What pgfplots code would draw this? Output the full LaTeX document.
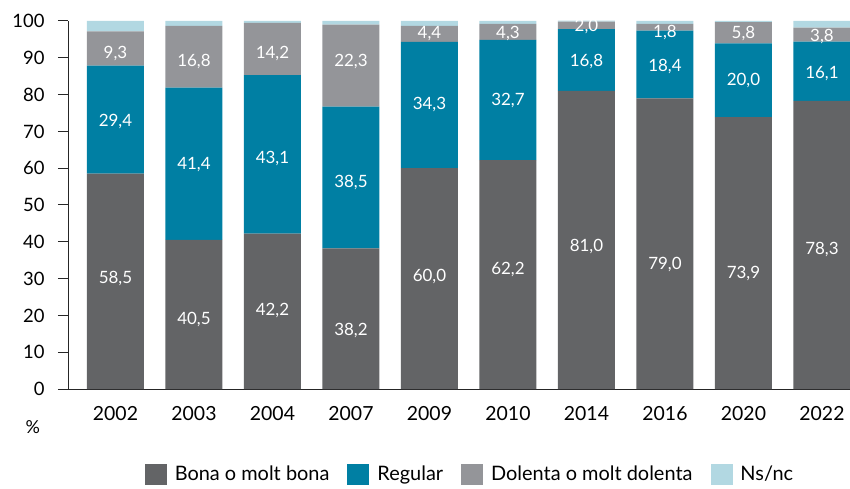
\documentclass[border=0pt]{standalone}
\usepackage{pgfplots}
\pgfplotsset{compat=1.18}
\usepackage{fontspec}
\setmainfont{Lato}
\definecolor{cBona}{HTML}{636466}
\definecolor{cReg}{HTML}{007FA3}
\definecolor{cDol}{HTML}{949599}
\definecolor{cNs}{HTML}{B2D8E2}
\pgfplotsset{common/.style={
  at={(68bp,100bp)}, anchor=south west,
  scale only axis, width=782bp, height=368bp,
  xmin=-0.605, xmax=9.357, ymin=0, ymax=100,
  enlargelimits=false}}
\begin{document}
\begin{tikzpicture}
\useasboundingbox (0,0) rectangle (850bp,489bp);
\begin{axis}[
  common,
  ybar stacked, bar width=57bp,
  axis x line=bottom, axis y line=left,
  axis line style={-, line width=1bp, black!85},
  ytick={0,10,...,100},
  xtick={0,...,9},
  xticklabels={2002,2003,2004,2007,2009,2010,2014,2016,2020,2022},
  major x tick style={draw=none},
  tick align=outside, major tick length=10bp,
  y tick style={line width=1bp, black!85},
  /pgf/number format/assume math mode=true,
  yticklabel style={font=\fontsize{18.5}{22}\selectfont, xshift=-10bp},
  xticklabel style={font=\fontsize{19.5}{23}\selectfont, yshift=-4bp},
  legend columns=-1,
  legend style={at={(axis description cs:0.514,-0.231)}, anchor=center,
    draw=none, fill=none, font=\fontsize{20}{24}\selectfont,
    /tikz/every even column/.append style={column sep=16bp},
    /tikz/every odd column/.append style={column sep=6bp}},
  legend image code/.code={\fill[#1,draw=none] (0bp,-10.5bp) rectangle (22bp,10.5bp);},
  clip=false,
]
\addplot[fill=cBona, draw=none]
 coordinates {(0,58.5) (1,40.5) (2,42.2) (3,38.2) (4,60.0) (5,62.2) (6,81.0) (7,79.0) (8,73.9) (9,78.3)};
\addlegendentry{Bona o molt bona}
\addplot[fill=cReg, draw=none]
 coordinates {(0,29.4) (1,41.4) (2,43.1) (3,38.5) (4,34.3) (5,32.7) (6,16.8) (7,18.4) (8,20.0) (9,16.1)};
\addlegendentry{Regular}
\addplot[fill=cDol, draw=none]
 coordinates {(0,9.3) (1,16.8) (2,14.2) (3,22.3) (4,4.4) (5,4.3) (6,2.0) (7,1.8) (8,5.8) (9,3.8)};
\addlegendentry{Dolenta o molt dolenta}
\addplot[fill=cNs, draw=none]
 coordinates {(0,2.8) (1,1.3) (2,0.5) (3,1.0) (4,1.3) (5,0.8) (6,0.3) (7,0.8) (8,0.3) (9,1.8)};
\addlegendentry{Ns/nc}
\node[font=\fontsize{18}{21}\selectfont] at (axis description cs:-0.045,-0.103) {\%};
\end{axis}
\begin{axis}[
  common, hide axis, clip=false,
  nodes near coords, point meta=explicit symbolic,
  nodes near coords align={center},
  every node near coord/.append style={anchor=center, text=white,
     font=\fontsize{17}{20}\selectfont},
]
\addplot[only marks, mark=none] table[meta=lab, row sep=\\] {
x y lab \\
0 29.9 58,5 \\ 1 18.75 40,5 \\ 2 21.2 42,2 \\ 3 16.0 38,2 \\ 4 30.7 60,0 \\
5 32.6 62,2 \\ 6 38.6 81,0 \\ 7 33.7 79,0 \\ 8 31.3 73,9 \\ 9 38.0 78,3 \\
0 72.8 29,4 \\ 1 61.1 41,4 \\ 2 62.5 43,1 \\ 3 56.2 38,5 \\ 4 77.2 34,3 \\
5 78.3 32,7 \\ 6 89.1 16,8 \\ 7 87.5 18,4 \\ 8 83.7 20,0 \\ 9 85.6 16,1 \\
0 91.3 9,3 \\ 1 89.1 16,8 \\ 2 91.3 14,2 \\ 3 88.9 22,3 \\ 4 96.5 4,4 \\
5 96.7 4,3 \\ 6 98.4 2,0 \\ 7 97.0 1,8 \\ 8 96.7 5,8 \\ 9 95.7 3,8 \\
};
\end{axis}
\end{tikzpicture}
\end{document}
